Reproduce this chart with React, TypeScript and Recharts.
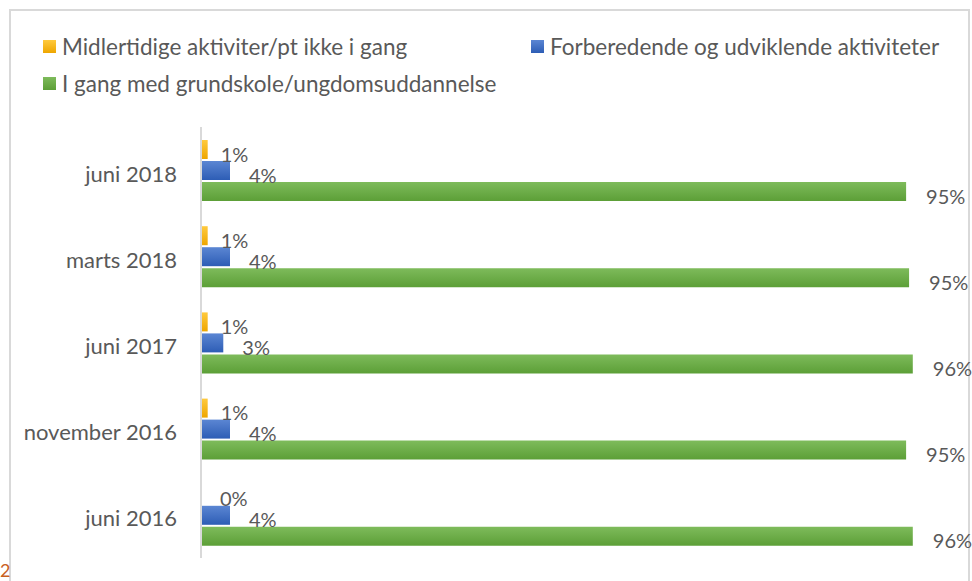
import React from 'react';
import { BarChart, Bar, XAxis, YAxis, LabelList } from 'recharts';

const categories = ['juni 2018', 'marts 2018', 'juni 2017', 'november 2016', 'juni 2016'];
const midlertidige = [0.9, 0.9, 0.9, 0.9, 0];
const forberedende = [3.9, 3.9, 3.0, 3.9, 3.9];
const iGang = [94.9, 95.3, 95.8, 94.9, 95.8];

const seriesNames = [
  'Midlertidige aktiviter/pt ikke i gang',
  'Forberedende og udviklende aktiviteter',
  'I gang med grundskole/ungdomsuddannelse',
];

const data = categories.map((name, i) => ({
  name,
  a: midlertidige[i],
  b: forberedende[i],
  c: iGang[i],
}));

const FONT = 'Lato, "Open Sans", sans-serif';
const TEXT = '#595959';

const series = [
  { key: 'a', name: seriesNames[0], top: '#ffca3e', bottom: '#eea600', gap: 13, minGap: 19, minPoint: 0.5 },
  { key: 'b', name: seriesNames[1], top: '#5b86d3', bottom: '#2d5db5', gap: 19, minGap: 0, minPoint: 0 },
  { key: 'c', name: seriesNames[2], top: '#7ebb5b', bottom: '#5c9f37', gap: 20, minGap: 0, minPoint: 0 },
];

const makeLabel = (gap: number, minGap: number) => (props: any) => {
  const { x, y, width, height, value } = props;
  const dx = Math.max(Number(width) + gap, minGap);
  return (
    <text
      x={Number(x) + dx}
      y={Number(y) + Number(height) / 2 + 4}
      fill={TEXT}
      fontSize={20}
      fontFamily={FONT}
      dominantBaseline="central"
    >
      {Math.round(Number(value))}%
    </text>
  );
};

const CatTick = (props: any) => {
  const { x, y, payload } = props;
  return (
    <text
      x={x}
      y={y + 3}
      textAnchor="end"
      dominantBaseline="central"
      fill={TEXT}
      fontSize={22}
      fontFamily={FONT}
    >
      {payload.value}
    </text>
  );
};

const legendPos = [
  { left: 43, top: 40 },
  { left: 531, top: 40 },
  { left: 43, top: 77 },
];

export default function App() {
  return (
    <div
      style={{
        position: 'absolute',
        left: 0,
        top: 0,
        width: 972,
        height: 581,
        overflow: 'hidden',
        background: '#ffffff',
        fontFamily: FONT,
      }}
    >
      <div
        style={{
          position: 'absolute',
          left: 9,
          top: 9,
          width: 961,
          height: 700,
          border: '2px solid #d9d9d9',
          boxSizing: 'border-box',
        }}
      />
      {series.map((s, i) => (
        <div
          key={s.key}
          style={{
            position: 'absolute',
            left: legendPos[i].left,
            top: legendPos[i].top - 7,
            height: 27,
            display: 'flex',
            alignItems: 'center',
            whiteSpace: 'nowrap',
            color: TEXT,
            fontSize: 22.5,
          }}
        >
          <span
            style={{
              display: 'inline-block',
              width: 13,
              height: 13,
              marginRight: 6,
              background: `linear-gradient(${s.top}, ${s.bottom})`,
            }}
          />
          <span>{s.name}</span>
        </div>
      ))}
      <div
        style={{
          position: 'absolute',
          left: 0,
          top: 559,
          fontSize: 18,
          color: '#c8601e',
          fontFamily: FONT,
        }}
      >
        2
      </div>
      <div style={{ position: 'absolute', left: 0, top: 0 }}>
        <BarChart
          width={972}
          height={581}
          layout="vertical"
          data={data}
          margin={{ top: 127, right: 28, bottom: 23, left: 0 }}
          barSize={19}
          barGap={2}
        >
          <defs>
            {series.map((s) => (
              <linearGradient key={s.key} id={`grad-${s.key}`} x1="0" y1="0" x2="0" y2="1">
                <stop offset="0%" stopColor={s.top} />
                <stop offset="100%" stopColor={s.bottom} />
              </linearGradient>
            ))}
          </defs>
          <XAxis type="number" domain={[0, 100]} hide />
          <YAxis
            type="category"
            dataKey="name"
            width={201}
            axisLine={{ stroke: '#d9d9d9', strokeWidth: 2 }}
            tickLine={false}
            tickSize={0}
            tickMargin={24}
            tick={<CatTick />}
            interval={0}
          />
          {series.map((s) => (
            <Bar
              key={s.key}
              dataKey={s.key}
              name={s.name}
              fill={`url(#grad-${s.key})`}
              minPointSize={s.minPoint}
              isAnimationActive={false}
            >
              <LabelList dataKey={s.key} content={makeLabel(s.gap, s.minGap)} />
            </Bar>
          ))}
        </BarChart>
      </div>
    </div>
  );
}
